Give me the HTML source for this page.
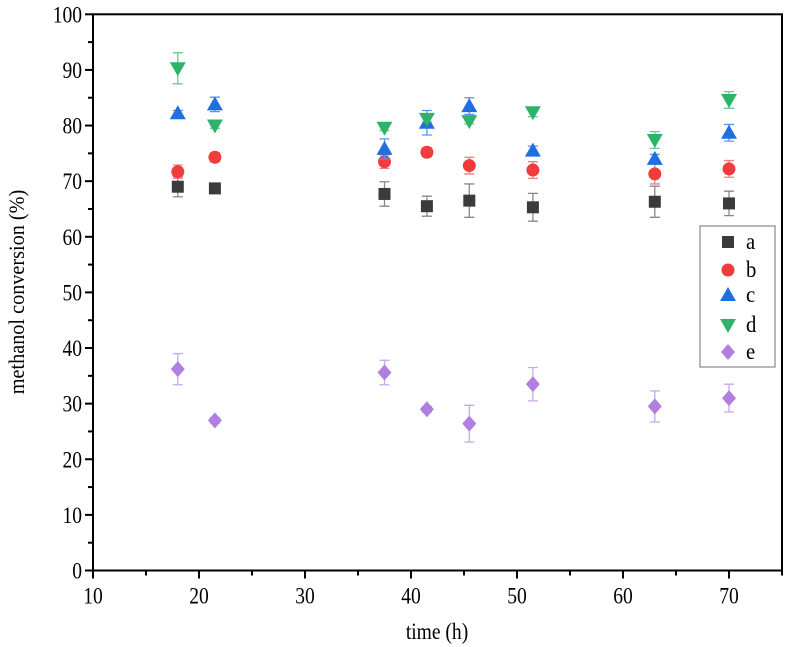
<!DOCTYPE html>
<html><head><meta charset="utf-8"><style>
body{margin:0;background:#fff;}
svg{display:block;font-family:"Liberation Serif",serif;}
</style></head><body>
<svg id="chart" width="787" height="647"></svg>
<script>
const xs=[18,21.5,37.5,41.5,45.5,51.5,63,70];
const seriesNames=['a','b','c','d','e'];
const valsA=[69,68.7,67.7,65.5,66.5,65.3,66.3,66];
const errA=[1.8,0,2.2,1.8,3,2.5,2.8,2.2];
const valsB=[71.7,74.3,73.5,75.2,72.8,72,71.3,72.2];
const errB=[1.2,0.8,1.2,0.8,1.5,1.5,1.8,1.5];
const valsC=[82.2,83.8,75.8,80.5,83.5,75.5,74,78.7];
const errC=[0.5,1.3,1.8,2.2,1.5,0.8,0.8,1.5];
const valsD=[90.3,80,79.6,81.2,80.8,82.4,77.4,84.6];
const errD=[2.8,0.5,0.5,0.5,0.5,0.8,1.5,1.5];
const valsE=[36.2,27,35.6,29,26.4,33.5,29.5,31];
const errE=[2.8,0.5,2.2,0.5,3.3,3,2.8,2.5];
const xTicks=[10,20,30,40,50,60,70];
const yTicks=[0,10,20,30,40,50,60,70,80,90,100];

const NS='http://www.w3.org/2000/svg';
const svg=document.getElementById('chart');
const L=93,R=782,T=14.3,B=570.5;
const X=v=>L+(v-10)/65*(R-L);
const Y=v=>B-v/100*(B-T);
function mk(tag,attrs,parent){const e=document.createElementNS(NS,tag);for(const k in attrs)e.setAttribute(k,attrs[k]);(parent||svg).appendChild(e);return e;}
function txt(x,y,s,anchor,name){
  const t=mk('text',{'text-anchor':anchor,'font-size':23,transform:`translate(${x},${y}) scale(0.85,1)`});
  t.textContent=s;
  
  
  return t;
}

const frame=mk('rect',{x:L,y:T,width:R-L,height:B-T,fill:'none',stroke:'#000','stroke-width':2});



for(let v=0;v<=100;v+=5){
  const t=mk('line',{x1:L,x2:L-(v%10===0?8:5),y1:Y(v),y2:Y(v),stroke:'#000','stroke-width':2});
  
  
}
yTicks.forEach(v=>txt(L-11,Y(v)+8,v,'end','y-tick-label'));
for(let v=10;v<=75;v+=5){
  const t=mk('line',{x1:X(v),x2:X(v),y1:B,y2:B+(v%10===0?8:5),stroke:'#000','stroke-width':2});
  
  
}
xTicks.forEach(v=>txt(X(v),B+33,v,'middle','x-tick-label'));
txt(437,639,'time (h)','middle','x-axis-title');
const yt=mk('text',{x:0,y:0,'text-anchor':'middle','font-size':22,transform:'translate(24,292) rotate(-90) scale(0.92,1)'});
yt.textContent='methanol conversion (%)';



const colors=['#3b3b3b','#f03c3c','#1f6fe0','#2fb36b','#b07fe0'];
const errColors=['#888','#f08080','#5a95e8','#6cc993','#c8a8ee'];
const allVals=[valsA,valsB,valsC,valsD,valsE];
const allErr=[errA,errB,errC,errD,errE];

function marker(i,cx,cy,g){
  const c=colors[i];
  if(i===0) return mk('rect',{x:cx-6,y:cy-6,width:12,height:12,fill:c},g);
  if(i===1) return mk('circle',{cx:cx,cy:cy,r:6.5,fill:c},g);
  if(i===2) return mk('polygon',{points:`${cx},${cy-8} ${cx-8},${cy+6} ${cx+8},${cy+6}`,fill:c},g);
  if(i===3) return mk('polygon',{points:`${cx-8},${cy-6} ${cx+8},${cy-6} ${cx},${cy+8}`,fill:c},g);
  return mk('polygon',{points:`${cx},${cy-8} ${cx+7},${cy} ${cx},${cy+8} ${cx-7},${cy}`,fill:c},g);
}

allVals.forEach((vals,i)=>{
  const g=mk('g',{});
  
  
  vals.forEach((v,j)=>{
    const cx=X(xs[j]),e=allErr[i][j];
    if(e>0){
      const eb=mk('path',{d:`M${cx},${Y(v+e)}V${Y(v-e)}M${cx-5},${Y(v+e)}H${cx+5}M${cx-5},${Y(v-e)}H${cx+5}`,stroke:errColors[i],'stroke-width':1.3,fill:'none'},g);
      
      
    }
    const m=marker(i,cx,Y(v),g);
    
    
  });
});

const lg=mk('g',{});


const lb=mk('rect',{x:700,y:226,width:75,height:141,fill:'#fff',stroke:'#888','stroke-width':1.2},lg);


const legY=[242,270,295,325,352];
seriesNames.forEach((n,i)=>{
  const yy=legY[i];
  const eg=mk('g',{},lg);
  
  
  marker(i,728,yy,eg);
  const t=mk('text',{'font-size':23,transform:`translate(746,${yy+7}) scale(0.9,1)`},eg);
  t.textContent=n;
});
</script>
</body></html>
